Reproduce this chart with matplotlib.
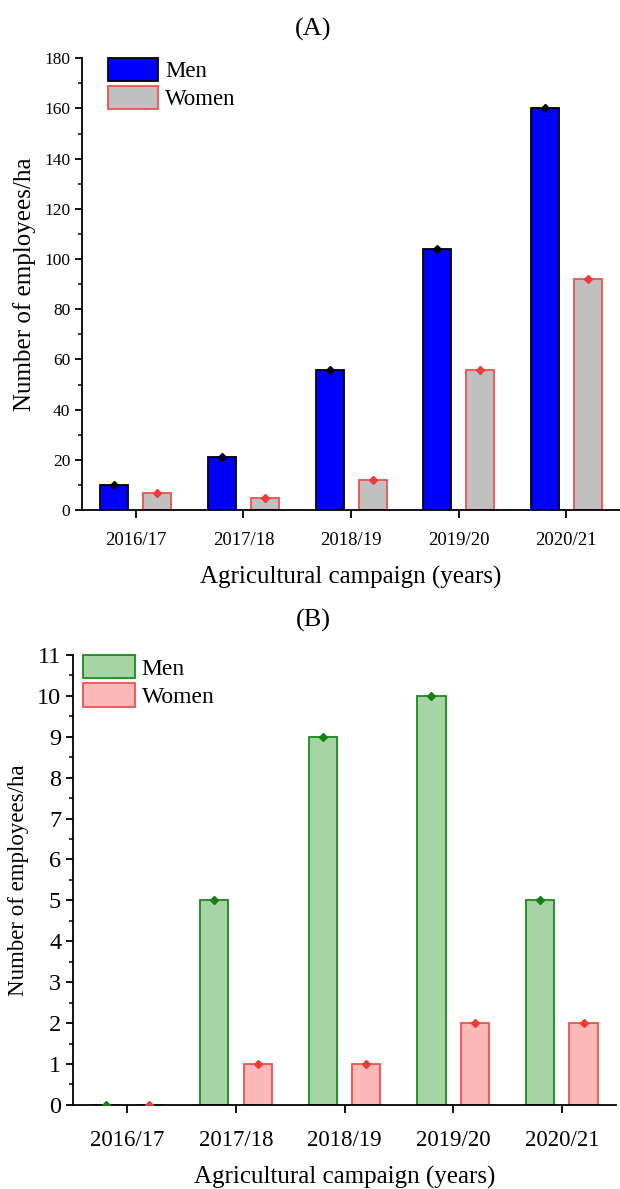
import numpy as np
from matplotlib import pyplot as plt
from matplotlib.ticker import MultipleLocator, AutoMinorLocator

# Campaigns and employees per hectare
campaigns = ["2016/17", "2017/18", "2018/19", "2019/20", "2020/21"]
men_a = [10, 21, 56, 104, 160]
women_a = [7, 5, 12, 56, 92]
men_b = [0, 5, 9, 10, 5]
women_b = [0, 1, 1, 2, 2]

plt.rcParams['font.family'] = ['Liberation Serif', 'DejaVu Serif']

fig = plt.figure(figsize=(6.2, 11.89), dpi=100)
ax_a = fig.add_axes([0.1323, 0.571, 0.868, 0.380])
ax_b = fig.add_axes([0.1177, 0.0707, 0.876, 0.3785])

x = np.arange(len(campaigns))
off = 0.2
w = 0.26


def draw_panel(ax, men, women, men_style, women_style, ymax, ystep,
               xtick_fs, ytick_fs, xlabel_fs, ylabel_fs, leg_fs, leg_anchor, xpad, xlabpad):
    ax.bar(x - off, men, w, color=men_style[0], edgecolor=men_style[1], linewidth=1.3, label='Men', zorder=2)
    ax.bar(x + off, women, w, color=women_style[0], edgecolor=women_style[1], linewidth=1.3, label='Women', zorder=2)
    ax.plot(x - off, men, linestyle='none', marker='D', markersize=4.5, color=men_style[2], zorder=3)
    ax.plot(x + off, women, linestyle='none', marker='D', markersize=4.5, color=women_style[2], zorder=3)

    ax.set_xlim(-0.5, 4.5)
    ax.set_ylim(0, ymax)
    ax.set_xticks(x)
    ax.set_xticklabels(campaigns, fontsize=xtick_fs)
    ax.yaxis.set_major_locator(MultipleLocator(ystep))
    ax.yaxis.set_minor_locator(AutoMinorLocator(2))
    ax.tick_params(axis='y', labelsize=ytick_fs, direction='out', length=5, width=1.3)
    ax.tick_params(axis='y', which='minor', direction='out', length=3, width=1.1)
    ax.tick_params(axis='x', direction='out', length=6, width=1.3, pad=xpad)
    for s in ['top', 'right']:
        ax.spines[s].set_visible(False)
    for s in ['left', 'bottom']:
        ax.spines[s].set_linewidth(1.3)

    ax.set_xlabel("Agricultural campaign (years)", fontsize=xlabel_fs, labelpad=xlabpad)
    ax.set_ylabel("Number of employees/ha", fontsize=ylabel_fs, labelpad=6)
    ax.legend(loc='upper left', bbox_to_anchor=leg_anchor, frameon=False, fontsize=leg_fs,
              handlelength=2.2, handleheight=1.15, labelspacing=0.15, handletextpad=0.3,
              borderaxespad=0, borderpad=0)


draw_panel(ax_a, men_a, women_a, ('#0000FF', 'black', 'black'), ('#C0C0C0', '#F05050', '#F03A3A'),
           180, 20, 13.5, 12.5, 18, 18, 16.5, (0.048, 1.0), 10, 12)
draw_panel(ax_b, men_b, women_b, ('#A6D4A4', '#1A8A1A', '#138013'), ('#FDB8B8', '#F05050', '#F03A3A'),
           11, 1, 16.5, 17.5, 18, 16.5, 17, (0.018, 1.0), 12, 11)

fig.text(0.505, 0.975, "(A)", ha='center', va='center', fontsize=19)
fig.text(0.505, 0.478, "(B)", ha='center', va='center', fontsize=19)

fig.savefig("out.png", dpi=100)
